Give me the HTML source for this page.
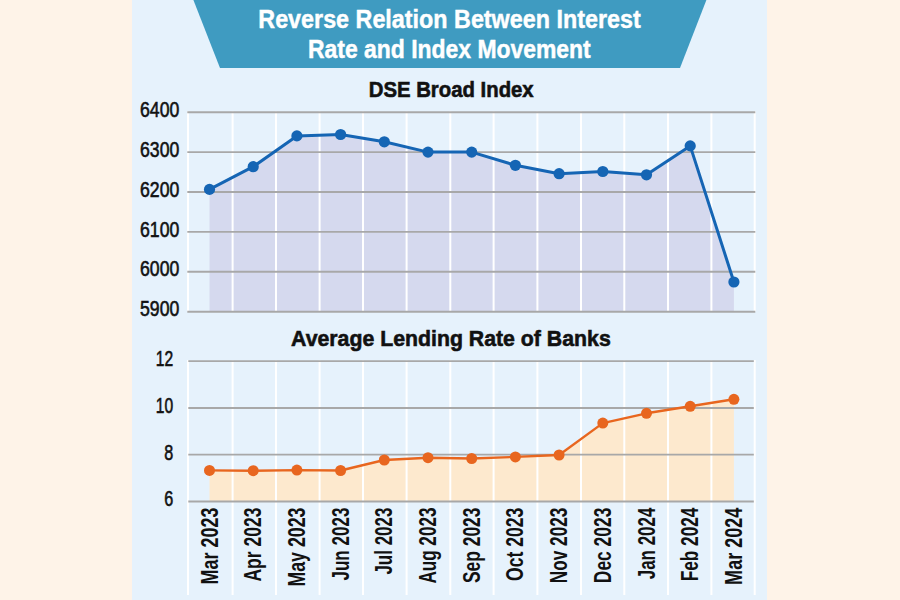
<!DOCTYPE html>
<html><head><meta charset="utf-8"><title>Reverse Relation Between Interest Rate and Index Movement</title>
<style>
html,body{margin:0;padding:0;background:#FEF3E8;}
body{width:900px;height:600px;overflow:hidden;}
svg{display:block;}
.t0{font-family:"Liberation Sans",Arial,sans-serif;font-weight:bold;font-size:25px;fill:#fff;stroke:#fff;stroke-width:0.45px;}
.t1{font-family:"Liberation Sans",Arial,sans-serif;font-weight:bold;font-size:22.8px;fill:#111;stroke:#111;stroke-width:0.6px;}
.ty{font-family:"Liberation Sans",Arial,sans-serif;font-size:22.3px;fill:#111;stroke:#111;stroke-width:0.6px;}
.tx{font-family:"Liberation Sans",Arial,sans-serif;font-weight:bold;font-size:24.5px;fill:#111;}
</style></head>
<body>
<svg width="900" height="600" viewBox="0 0 900 600">
<rect x="132" y="0" width="635" height="600" fill="#E6F2FC"/>
<polygon points="193.4,0 706.4,0 680,68 220,68" fill="#3F9BC1"/>
<text x="449.5" y="27.7" class="t0" text-anchor="middle" textLength="382.4" lengthAdjust="spacingAndGlyphs">Reverse Relation Between Interest</text>
<text x="449.4" y="57.7" class="t0" text-anchor="middle" textLength="282.7" lengthAdjust="spacingAndGlyphs">Rate and Index Movement</text>
<text x="451.2" y="96.7" class="t1" text-anchor="middle" textLength="165" lengthAdjust="spacingAndGlyphs">DSE Broad Index</text>
<text x="450.9" y="346.3" class="t1" text-anchor="middle" textLength="319.7" lengthAdjust="spacingAndGlyphs">Average Lending Rate of Banks</text>
<polygon points="209.5,311.7 209.5,189.4 253.2,166.7 296.9,135.9 340.6,134.5 384.3,141.8 428.0,152.1 471.7,152.1 515.4,165.3 559.1,173.7 602.8,171.5 646.5,174.8 690.2,145.9 733.9,282.0 733.9,311.7" fill="#D5D9EE"/>
<line x1="188.0" y1="111" x2="188.0" y2="311.7" stroke="#fff" stroke-width="2"/>
<line x1="232.6" y1="111" x2="232.6" y2="311.7" stroke="#fff" stroke-width="2"/>
<line x1="276.0" y1="111" x2="276.0" y2="311.7" stroke="#fff" stroke-width="2"/>
<line x1="319.6" y1="111" x2="319.6" y2="311.7" stroke="#fff" stroke-width="2"/>
<line x1="363.0" y1="111" x2="363.0" y2="311.7" stroke="#fff" stroke-width="2"/>
<line x1="406.6" y1="111" x2="406.6" y2="311.7" stroke="#fff" stroke-width="2"/>
<line x1="450.3" y1="111" x2="450.3" y2="311.7" stroke="#fff" stroke-width="2"/>
<line x1="493.6" y1="111" x2="493.6" y2="311.7" stroke="#fff" stroke-width="2"/>
<line x1="537.4" y1="111" x2="537.4" y2="311.7" stroke="#fff" stroke-width="2"/>
<line x1="581.0" y1="111" x2="581.0" y2="311.7" stroke="#fff" stroke-width="2"/>
<line x1="624.3" y1="111" x2="624.3" y2="311.7" stroke="#fff" stroke-width="2"/>
<line x1="668.0" y1="111" x2="668.0" y2="311.7" stroke="#fff" stroke-width="2"/>
<line x1="711.4" y1="111" x2="711.4" y2="311.7" stroke="#fff" stroke-width="2"/>
<line x1="754.7" y1="111" x2="754.7" y2="311.7" stroke="#fff" stroke-width="2"/>
<line x1="187.3" y1="112.2" x2="755.3" y2="112.2" stroke="#A8A8A8" stroke-width="1.9"/>
<line x1="187.3" y1="152.1" x2="755.3" y2="152.1" stroke="#A8A8A8" stroke-width="1.9"/>
<line x1="187.3" y1="192.0" x2="755.3" y2="192.0" stroke="#A8A8A8" stroke-width="1.9"/>
<line x1="187.3" y1="231.9" x2="755.3" y2="231.9" stroke="#A8A8A8" stroke-width="1.9"/>
<line x1="187.3" y1="271.8" x2="755.3" y2="271.8" stroke="#A8A8A8" stroke-width="1.9"/>
<line x1="187.3" y1="311.7" x2="755.3" y2="311.7" stroke="#A8A8A8" stroke-width="1.9"/>
<polyline points="209.5,189.4 253.2,166.7 296.9,135.9 340.6,134.5 384.3,141.8 428.0,152.1 471.7,152.1 515.4,165.3 559.1,173.7 602.8,171.5 646.5,174.8 690.2,145.9 733.9,282.0" fill="none" stroke="#1565B4" stroke-width="3" stroke-linejoin="round"/>
<circle cx="209.5" cy="189.4" r="5.6" fill="#1565B4"/>
<circle cx="253.2" cy="166.7" r="5.6" fill="#1565B4"/>
<circle cx="296.9" cy="135.9" r="5.6" fill="#1565B4"/>
<circle cx="340.6" cy="134.5" r="5.6" fill="#1565B4"/>
<circle cx="384.3" cy="141.8" r="5.6" fill="#1565B4"/>
<circle cx="428.0" cy="152.1" r="5.6" fill="#1565B4"/>
<circle cx="471.7" cy="152.1" r="5.6" fill="#1565B4"/>
<circle cx="515.4" cy="165.3" r="5.6" fill="#1565B4"/>
<circle cx="559.1" cy="173.7" r="5.6" fill="#1565B4"/>
<circle cx="602.8" cy="171.5" r="5.6" fill="#1565B4"/>
<circle cx="646.5" cy="174.8" r="5.6" fill="#1565B4"/>
<circle cx="690.2" cy="145.9" r="5.6" fill="#1565B4"/>
<circle cx="733.9" cy="282.0" r="5.6" fill="#1565B4"/>
<text x="179.3" y="116.8" class="ty" text-anchor="end" textLength="39.3" lengthAdjust="spacingAndGlyphs">6400</text>
<text x="179.3" y="156.7" class="ty" text-anchor="end" textLength="39.3" lengthAdjust="spacingAndGlyphs">6300</text>
<text x="179.3" y="196.6" class="ty" text-anchor="end" textLength="39.3" lengthAdjust="spacingAndGlyphs">6200</text>
<text x="179.3" y="236.5" class="ty" text-anchor="end" textLength="39.3" lengthAdjust="spacingAndGlyphs">6100</text>
<text x="179.3" y="276.4" class="ty" text-anchor="end" textLength="39.3" lengthAdjust="spacingAndGlyphs">6000</text>
<text x="179.3" y="316.3" class="ty" text-anchor="end" textLength="39.3" lengthAdjust="spacingAndGlyphs">5900</text>
<polygon points="209.5,501.5 209.5,470.4 253.2,470.7 296.9,470.1 340.6,470.5 384.3,460.0 428.0,457.7 471.7,458.5 515.4,456.9 559.1,455.0 602.8,423.1 646.5,413.3 690.2,406.3 733.9,399.3 733.9,501.5" fill="#FDE9CE"/>
<line x1="188.0" y1="360" x2="188.0" y2="595" stroke="#fff" stroke-width="2"/>
<line x1="232.6" y1="360" x2="232.6" y2="595" stroke="#fff" stroke-width="2"/>
<line x1="276.0" y1="360" x2="276.0" y2="595" stroke="#fff" stroke-width="2"/>
<line x1="319.6" y1="360" x2="319.6" y2="595" stroke="#fff" stroke-width="2"/>
<line x1="363.0" y1="360" x2="363.0" y2="595" stroke="#fff" stroke-width="2"/>
<line x1="406.6" y1="360" x2="406.6" y2="595" stroke="#fff" stroke-width="2"/>
<line x1="450.3" y1="360" x2="450.3" y2="595" stroke="#fff" stroke-width="2"/>
<line x1="493.6" y1="360" x2="493.6" y2="595" stroke="#fff" stroke-width="2"/>
<line x1="537.4" y1="360" x2="537.4" y2="595" stroke="#fff" stroke-width="2"/>
<line x1="581.0" y1="360" x2="581.0" y2="595" stroke="#fff" stroke-width="2"/>
<line x1="624.3" y1="360" x2="624.3" y2="595" stroke="#fff" stroke-width="2"/>
<line x1="668.0" y1="360" x2="668.0" y2="595" stroke="#fff" stroke-width="2"/>
<line x1="711.4" y1="360" x2="711.4" y2="595" stroke="#fff" stroke-width="2"/>
<line x1="754.7" y1="360" x2="754.7" y2="595" stroke="#fff" stroke-width="2"/>
<line x1="188.3" y1="361.1" x2="753.8" y2="361.1" stroke="#A8A8A8" stroke-width="1.8"/>
<line x1="188.3" y1="408.0" x2="753.8" y2="408.0" stroke="#A8A8A8" stroke-width="1.8"/>
<line x1="188.3" y1="454.7" x2="753.8" y2="454.7" stroke="#A8A8A8" stroke-width="1.8"/>
<line x1="188.3" y1="501.5" x2="753.8" y2="501.5" stroke="#A8A8A8" stroke-width="1.8"/>
<polyline points="209.5,470.4 253.2,470.7 296.9,470.1 340.6,470.5 384.3,460.0 428.0,457.7 471.7,458.5 515.4,456.9 559.1,455.0 602.8,423.1 646.5,413.3 690.2,406.3 733.9,399.3" fill="none" stroke="#E8661F" stroke-width="2.4" stroke-linejoin="round"/>
<circle cx="209.5" cy="470.4" r="5.5" fill="#E8661F"/>
<circle cx="253.2" cy="470.7" r="5.5" fill="#E8661F"/>
<circle cx="296.9" cy="470.1" r="5.5" fill="#E8661F"/>
<circle cx="340.6" cy="470.5" r="5.5" fill="#E8661F"/>
<circle cx="384.3" cy="460.0" r="5.5" fill="#E8661F"/>
<circle cx="428.0" cy="457.7" r="5.5" fill="#E8661F"/>
<circle cx="471.7" cy="458.5" r="5.5" fill="#E8661F"/>
<circle cx="515.4" cy="456.9" r="5.5" fill="#E8661F"/>
<circle cx="559.1" cy="455.0" r="5.5" fill="#E8661F"/>
<circle cx="602.8" cy="423.1" r="5.5" fill="#E8661F"/>
<circle cx="646.5" cy="413.3" r="5.5" fill="#E8661F"/>
<circle cx="690.2" cy="406.3" r="5.5" fill="#E8661F"/>
<circle cx="733.9" cy="399.3" r="5.5" fill="#E8661F"/>
<text x="173.2" y="365.9" class="ty" text-anchor="end" textLength="17.4" lengthAdjust="spacingAndGlyphs">12</text>
<text x="173.2" y="412.8" class="ty" text-anchor="end" textLength="17.4" lengthAdjust="spacingAndGlyphs">10</text>
<text x="173.2" y="459.5" class="ty" text-anchor="end" textLength="9" lengthAdjust="spacingAndGlyphs">8</text>
<text x="173.2" y="506.3" class="ty" text-anchor="end" textLength="9" lengthAdjust="spacingAndGlyphs">6</text>
<text transform="translate(217.5,507.6) rotate(-90)" class="tx" text-anchor="end" textLength="77.0" lengthAdjust="spacingAndGlyphs">Mar 2023</text>
<text transform="translate(261.2,507.6) rotate(-90)" class="tx" text-anchor="end" textLength="74.0" lengthAdjust="spacingAndGlyphs">Apr 2023</text>
<text transform="translate(304.9,507.6) rotate(-90)" class="tx" text-anchor="end" textLength="79.0" lengthAdjust="spacingAndGlyphs">May 2023</text>
<text transform="translate(348.6,507.6) rotate(-90)" class="tx" text-anchor="end" textLength="73.0" lengthAdjust="spacingAndGlyphs">Jun 2023</text>
<text transform="translate(392.3,507.6) rotate(-90)" class="tx" text-anchor="end" textLength="67.0" lengthAdjust="spacingAndGlyphs">Jul 2023</text>
<text transform="translate(436.0,507.6) rotate(-90)" class="tx" text-anchor="end" textLength="76.0" lengthAdjust="spacingAndGlyphs">Aug 2023</text>
<text transform="translate(479.7,507.6) rotate(-90)" class="tx" text-anchor="end" textLength="75.4" lengthAdjust="spacingAndGlyphs">Sep 2023</text>
<text transform="translate(523.4,507.6) rotate(-90)" class="tx" text-anchor="end" textLength="73.4" lengthAdjust="spacingAndGlyphs">Oct 2023</text>
<text transform="translate(567.1,507.6) rotate(-90)" class="tx" text-anchor="end" textLength="75.6" lengthAdjust="spacingAndGlyphs">Nov 2023</text>
<text transform="translate(610.8,507.6) rotate(-90)" class="tx" text-anchor="end" textLength="75.6" lengthAdjust="spacingAndGlyphs">Dec 2023</text>
<text transform="translate(654.5,507.6) rotate(-90)" class="tx" text-anchor="end" textLength="71.7" lengthAdjust="spacingAndGlyphs">Jan 2024</text>
<text transform="translate(698.2,507.6) rotate(-90)" class="tx" text-anchor="end" textLength="73.7" lengthAdjust="spacingAndGlyphs">Feb 2024</text>
<text transform="translate(741.9,507.6) rotate(-90)" class="tx" text-anchor="end" textLength="77.3" lengthAdjust="spacingAndGlyphs">Mar 2024</text>
</svg>
</body></html>
